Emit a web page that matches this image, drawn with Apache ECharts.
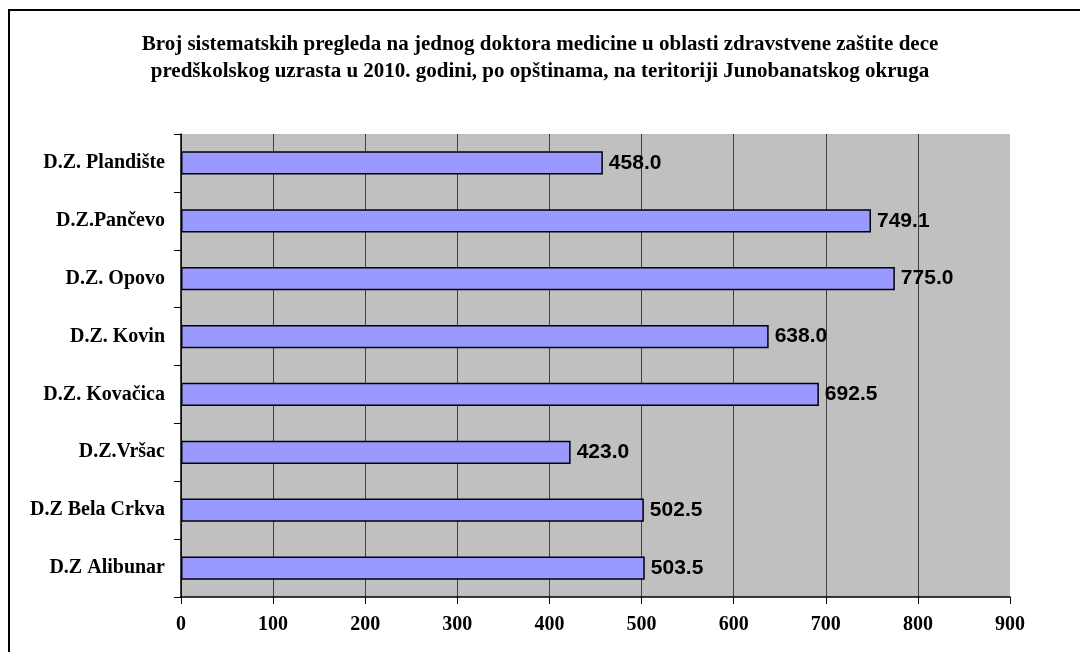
<!DOCTYPE html>
<html>
<head>
<meta charset="utf-8">
<script src="https://cdn.jsdelivr.net/npm/echarts@6/dist/echarts.min.js"></script>
<style>
  html, body { margin: 0; padding: 0; background: #fff; }
  #container_chart { width: 1080px; height: 652px; }
</style>
</head>
<body>
<div id="container_chart"></div>
<script>
var titleLines = [
    "Broj sistematskih pregleda na jednog doktora medicine u oblasti zdravstvene zaštite dece",
    "predškolskog uzrasta u 2010. godini, po opštinama, na teritoriji Junobanatskog okruga"
];
var categories = ["D.Z. Plandište", "D.Z.Pančevo", "D.Z. Opovo", "D.Z. Kovin",
    "D.Z. Kovačica", "D.Z.Vršac", "D.Z Bela Crkva", "D.Z Alibunar"];
var values = [458.0, 749.1, 775.0, 638.0, 692.5, 423.0, 502.5, 503.5];

var chart = echarts.init(document.getElementById("container_chart"));

var option = {
    animation: false,
    backgroundColor: '#fff',
    title: {
        text: titleLines.join('\n'),
        left: 'center',
        top: 26,
        textStyle: {
            fontFamily: 'Liberation Serif',
            fontWeight: 'bold',
            fontSize: 21,
            lineHeight: 27,
            color: '#000'
        }
    },
    graphic: [{
        type: 'rect',
        shape: { x: 9, y: 10, width: 1200, height: 1200 },
        style: { fill: 'none', stroke: '#000', lineWidth: 2 },
        silent: true
    }],
    grid: {
        left: 181,
        right: 70,
        top: 134,
        bottom: 55,
        show: true,
        backgroundColor: '#C0C0C0',
        borderWidth: 0
    },
    xAxis: {
        type: 'value',
        min: 0,
        max: 900,
        interval: 100,
        axisLine: { show: true, lineStyle: { color: '#000', width: 1.5 } },
        axisTick: { show: true, length: 7, lineStyle: { color: '#000' } },
        axisLabel: {
            margin: 18,
            fontFamily: 'Liberation Serif',
            fontWeight: 'bold',
            fontSize: 20,
            color: '#000'
        },
        splitLine: {
            show: true,
            showMaxLine: false,
            lineStyle: { color: '#404040', width: 1 }
        }
    },
    yAxis: {
        type: 'category',
        data: categories,
        inverse: true,
        axisLine: { show: true, lineStyle: { color: '#000', width: 1.5 } },
        axisTick: { show: true, length: 7, lineStyle: { color: '#000' } },
        axisLabel: {
            margin: 16,
            fontFamily: 'Liberation Serif',
            fontWeight: 'bold',
            fontSize: 20,
            color: '#000'
        }
    },
    series: [{
        type: 'bar',
        data: values,
        barCategoryGap: '60%',
        itemStyle: {
            color: '#9999FF',
            borderColor: '#000',
            borderWidth: 1.5
        },
        label: {
            show: true,
            position: 'right',
            distance: 6,
            formatter: function (p) { return p.value.toFixed(1); },
            fontFamily: 'Liberation Sans',
            fontWeight: 'bold',
            fontSize: 21,
            color: '#000'
        }
    }]
};

chart.setOption(option);
</script>
</body>
</html>
